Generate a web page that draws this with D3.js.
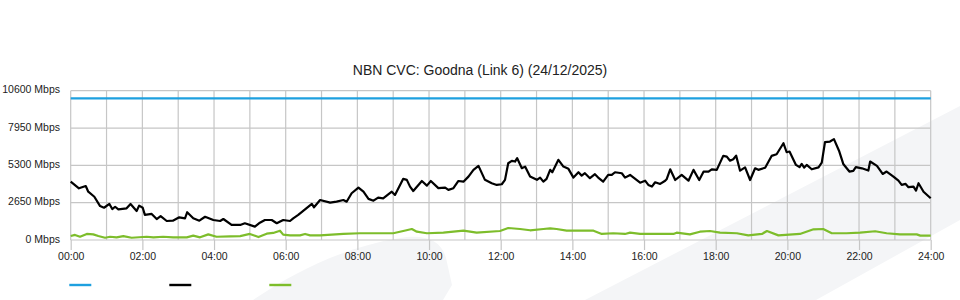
<!DOCTYPE html>
<html>
<head>
<meta charset="utf-8">
<script src="https://cdn.jsdelivr.net/npm/d3@7"></script>
<style>
  html, body { margin: 0; padding: 0; background: #fff; }
  svg { display: block; font-family: "Liberation Sans", Arial, Helvetica, sans-serif; }
</style>
</head>
<body>
<svg id="chart" width="960" height="300"></svg>
<script>
// ---------- data ----------
const title = "NBN CVC: Goodna (Link 6) (24/12/2025)";
const yTicks = [0, 2650, 5300, 7950, 10600];
const yTickLabels = ["0 Mbps", "2650 Mbps", "5300 Mbps", "7950 Mbps", "10600 Mbps"];
const xTicks = [0, 2, 4, 6, 8, 10, 12, 14, 16, 18, 20, 22, 24];
const xTickLabels = ["00:00","02:00","04:00","06:00","08:00","10:00","12:00","14:00","16:00","18:00","20:00","22:00","24:00"];
const gridHours = d3.range(0, 25);
const seriesNames = ["", "", ""];
const seriesColors = ["#1ea0df", "#000000", "#7dbd2b"];

// capacity (blue)
const capacityTimes = [0, 24];
const capacityValues = [10050, 10050];

// traffic (black), hours / Mbps
const trafficTimes = [0.00,0.23,0.42,0.49,0.66,0.82,0.93,1.08,1.16,1.24,1.33,1.56,1.67,1.84,1.91,2.01,2.07,2.26,2.40,2.51,2.68,2.85,3.03,3.19,3.25,3.42,3.59,3.75,3.98,4.17,4.26,4.49,4.73,4.86,5.14,5.28,5.42,5.61,5.75,5.93,6.12,6.21,6.35,6.73,6.79,6.96,7.24,7.42,7.61,7.70,7.84,8.03,8.17,8.31,8.45,8.58,8.72,8.96,9.05,9.28,9.38,9.47,9.56,9.80,9.94,10.05,10.26,10.45,10.54,10.68,10.82,10.96,11.10,11.24,11.38,11.56,11.75,11.89,12.03,12.12,12.21,12.31,12.40,12.46,12.59,12.68,12.82,13.01,13.10,13.19,13.28,13.38,13.44,13.61,13.75,13.89,14.03,14.17,14.26,14.35,14.49,14.63,14.72,14.86,15.00,15.10,15.19,15.38,15.47,15.61,15.89,16.03,16.12,16.22,16.31,16.45,16.59,16.63,16.73,16.87,17.05,17.24,17.38,17.54,17.66,17.80,17.89,18.03,18.21,18.31,18.40,18.49,18.57,18.68,18.82,18.96,19.10,19.19,19.38,19.56,19.70,19.89,19.98,20.06,20.24,20.34,20.40,20.47,20.54,20.68,20.87,20.96,21.05,21.19,21.30,21.45,21.56,21.73,21.84,21.91,22.08,22.26,22.31,22.50,22.66,22.77,22.96,23.10,23.19,23.30,23.38,23.52,23.59,23.66,23.80,24.00];
const trafficValues = [4140,3670,3830,3430,3070,2410,2290,2560,2200,2360,2180,2250,2560,2060,2440,2290,1780,1850,1490,1700,1350,1370,1610,1540,1970,1540,1370,1650,1420,1350,1490,1070,1070,1190,950,1230,1420,1420,1190,1420,1350,1540,1780,2560,2320,2840,2650,2720,2840,2720,3320,3720,3430,2920,2790,3010,2960,3430,3200,4340,4270,3790,3480,4190,3860,4190,3680,3720,3560,3680,4190,4140,4500,4980,5260,4270,4030,3910,3960,4270,5450,5620,5570,5810,5100,5210,4500,4270,4430,4140,4340,4980,4810,5690,5210,5050,4430,4810,4570,4740,4390,4670,4430,4140,4620,4620,4810,4740,4430,4620,4070,4210,3910,3790,4100,3980,4210,4310,5020,4260,4620,4210,4980,4260,4850,4850,5020,4980,5970,5920,5630,5730,5990,4920,5160,4260,5090,4980,5130,5970,6090,6870,6230,6280,5330,5170,5400,5140,5330,5020,5160,5490,6950,6990,7160,6280,5400,4860,4910,5170,5090,4930,5570,5260,4690,4860,4500,4210,3910,3980,3750,3790,3510,4030,3430,2960];

// green series, hours / Mbps
const greenTimes = [0.00,0.12,0.26,0.45,0.63,0.77,0.96,1.10,1.28,1.47,1.70,2.12,2.31,2.58,2.86,3.24,3.42,3.61,3.84,4.07,4.45,4.73,5.00,5.24,5.47,5.65,5.84,5.93,6.12,6.40,6.54,6.68,6.96,7.61,8.07,8.54,9.00,9.28,9.52,9.66,9.94,10.40,10.96,11.33,11.98,12.21,12.54,12.82,13.19,13.38,13.56,13.84,14.59,14.82,15.14,15.47,15.61,15.89,16.82,16.91,17.28,17.56,17.84,18.12,18.59,18.91,19.29,19.43,19.75,20.35,20.73,21.00,21.24,21.65,22.03,22.45,22.77,23.14,23.61,23.71,24.00];
const greenValues = [280,360,230,430,400,280,160,230,190,280,160,230,190,230,190,190,310,190,400,230,260,280,430,210,450,500,660,380,330,330,430,330,330,430,480,480,480,640,780,590,480,520,660,520,640,850,780,690,780,830,780,660,660,430,480,430,520,430,430,520,400,590,640,520,480,330,430,640,330,430,760,780,480,480,520,620,480,400,400,310,310];

// ---------- drawing ----------
const svg = d3.select("#chart");
const W = 960, H = 300;
const plotLeft = 70.7, plotRight = 930.7, plotTop = 90.7, plotBottom = 240;

// faint watermark shapes in the background
const bg = svg.append("g").attr("fill", "#f4f5f7");
bg.append("path").attr("d", "M585,300 L960,106 L960,220 L816,300 Z");
bg.append("path").attr("d", "M253,300 C300,268 350,246 400,238 C425,234 441,240 446,258 L452,285 L443,300 Z");

const x = d3.scaleLinear().domain([0, 24]).range([plotLeft, plotRight]);
const y = d3.scaleLinear().domain([0, 10600]).range([plotBottom, plotTop]);

// grid
const grid = svg.append("g").attr("stroke", "#c6c6c6").attr("stroke-width", 1.2).attr("fill", "none");
grid.selectAll("line.v").data(gridHours).join("line").attr("class", "v")
  .attr("x1", d => x(d)).attr("x2", d => x(d))
  .attr("y1", plotTop).attr("y2", plotBottom);
grid.selectAll("line.h").data(yTicks).join("line").attr("class", "h")
  .attr("x1", plotLeft).attr("x2", plotRight)
  .attr("y1", d => y(d)).attr("y2", d => y(d));

// x axis
const xAxis = d3.axisBottom(x).tickValues(xTicks).tickSize(10).tickPadding(3)
  .tickFormat((d, i) => xTickLabels[i]);
const gx = svg.append("g").attr("transform", `translate(0,${plotBottom})`).call(xAxis);
gx.select(".domain").remove();
gx.selectAll(".tick line").attr("stroke", "#c6c6c6").attr("stroke-width", 1.2);
gx.selectAll(".tick text").attr("font-size", "10.5px").attr("fill", "#222")
  .attr("font-family", "'Liberation Sans', Arial, sans-serif");

// y axis labels
const yAxis = d3.axisLeft(y).tickValues(yTicks).tickSize(0).tickPadding(10.7)
  .tickFormat((d, i) => yTickLabels[i]);
const gy = svg.append("g").attr("transform", `translate(${plotLeft},0)`).call(yAxis);
gy.select(".domain").remove();
gy.selectAll(".tick text").attr("font-size", "10.5px").attr("fill", "#222")
  .attr("dy", "0.2em")
  .attr("font-family", "'Liberation Sans', Arial, sans-serif");

// lines
const line = d3.line().x(d => x(d[0])).y(d => y(d[1]));
const zip = (a, b) => a.map((t, i) => [t, b[i]]);

svg.append("path").datum(zip(greenTimes, greenValues))
  .attr("d", line).attr("fill", "none").attr("stroke", seriesColors[2])
  .attr("stroke-width", 2.2).attr("stroke-linejoin", "round");
svg.append("path").datum(zip(trafficTimes, trafficValues))
  .attr("d", line).attr("fill", "none").attr("stroke", seriesColors[1])
  .attr("stroke-width", 2.2).attr("stroke-linejoin", "round");
svg.append("path").datum(zip(capacityTimes, capacityValues))
  .attr("d", line).attr("fill", "none").attr("stroke", seriesColors[0])
  .attr("stroke-width", 2.2);

// title
svg.append("text").attr("x", W / 2).attr("y", 75).attr("text-anchor", "middle")
  .attr("font-size", "14px").attr("fill", "#222").text(title);

// legend (keys only)
const legend = svg.append("g").attr("transform", "translate(69.3,285)");
const lg = legend.selectAll("g").data(seriesColors).join("g")
  .attr("transform", (d, i) => `translate(${i * 100},0)`);
lg.append("line").attr("x1", 0).attr("x2", 22).attr("y1", 0).attr("y2", 0)
  .attr("stroke", d => d).attr("stroke-width", 2.4);
lg.append("text").attr("x", 28).attr("y", 4).attr("font-size", "10.5px")
  .text((d, i) => seriesNames[i]);
</script>
</body>
</html>
